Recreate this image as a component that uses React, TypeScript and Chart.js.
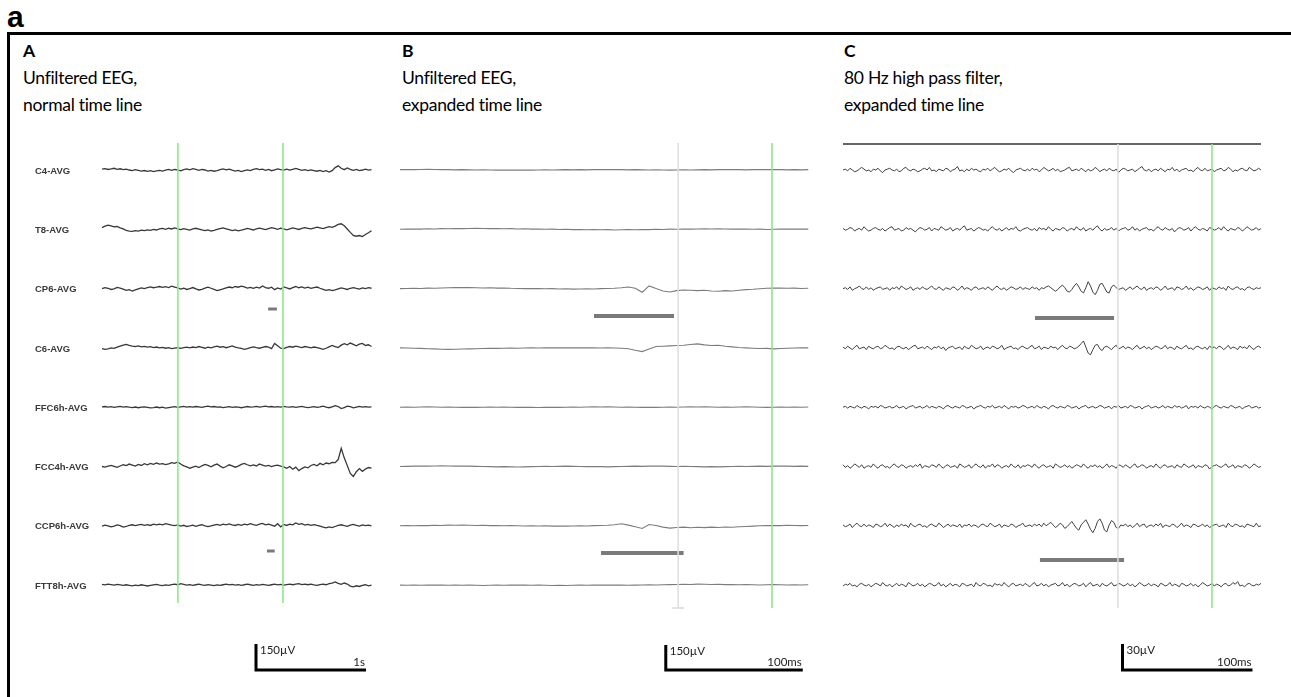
import React, { useEffect, useRef } from "react";
import { Chart, registerables } from "chart.js";
Chart.register(...registerables);

// ---------------- DATA ----------------
const channels = ["C4-AVG", "T8-AVG", "CP6-AVG", "C6-AVG", "FFC6h-AVG", "FCC4h-AVG", "CCP6h-AVG", "FTT8h-AVG"];

// Panel A: unfiltered EEG, normal time line (µV, 2.45 s window)
const aSpanS = 2.45;
const aC4 = [5,8,3,6,10,4,7,2,5,0,-3,2,-2,-6,-3,-8,-4,-9,-5,-2,-6,-1,3,-2,4,0,-5,2,6,1,8,3,-2,4,0,-6,-2,-7,-3,2,6,1,5,-1,-6,-2,-9,-4,1,-3,3,8,2,5,-2,3,-4,1,6,2,0,5,-1,4,9,3,-2,2,-4,1,-3,-7,-2,-9,-4,-12,-4,14,24,10,2,12,4,-2,3,-4,0,5,-1,2];
const aT8 = [10,18,24,20,14,16,8,2,-6,-10,-12,-8,-10,-5,-8,-3,-6,0,-4,2,5,0,6,2,8,3,-2,4,0,-5,2,6,1,-4,-8,-3,-10,-6,-1,4,8,3,-2,-7,-3,-9,-5,0,5,1,-4,2,7,3,-2,4,9,5,0,6,2,-3,3,8,4,-1,5,10,6,2,7,12,8,4,10,15,11,18,28,32,20,2,-18,-35,-40,-36,-42,-30,-20,-8];
const aCP6 = [0,6,2,-5,-1,7,3,-3,-10,-6,-14,-8,-2,4,0,6,10,5,8,12,7,11,6,14,9,4,-3,2,-5,0,6,-2,-8,-4,3,8,2,-5,-12,-7,-2,4,9,5,12,8,14,10,3,7,1,8,3,15,6,2,8,-6,4,-3,10,4,-2,6,12,5,10,3,8,1,6,9,2,-4,-10,-6,-12,-8,-2,4,0,-5,2,6,1,-3,4,0,5,2];
const aC6 = [-4,-8,-5,0,-3,4,10,16,20,14,10,8,12,6,9,4,7,2,5,0,3,-2,1,-4,-1,2,-3,1,4,0,5,2,8,3,-2,4,0,6,10,4,7,1,6,12,5,0,-3,-8,-4,2,6,1,-2,3,8,4,-4,26,12,-2,-4,3,8,4,10,6,2,8,4,0,5,1,-3,-8,-2,6,14,8,2,16,24,18,28,20,12,22,26,14,18,8];
const aFFC6h = [2,4,1,3,-1,2,5,1,3,0,-2,1,-3,0,2,-1,-4,-2,1,-3,0,-5,-2,1,3,-1,2,5,1,3,0,4,2,-1,3,6,2,4,0,2,-2,1,3,-1,2,0,-3,1,4,0,2,5,1,3,6,2,4,0,3,1,5,2,0,3,-1,2,5,1,-2,0,3,-1,2,6,1,-3,2,9,4,-8,-2,6,3,-4,1,5,0,3,1,2];
const aFCC4h = [0,-4,2,6,1,-5,3,10,5,14,8,2,12,6,16,10,18,12,20,14,17,11,15,22,18,26,14,4,-2,-10,-4,2,-6,4,12,6,-2,8,14,2,-8,0,10,4,-4,2,12,18,10,4,9,3,14,8,2,6,0,5,8,2,-2,-10,0,-16,-4,-24,-12,-2,-8,6,12,4,18,10,20,16,24,22,40,105,50,5,-40,-58,-30,-12,-28,-15,-6,-10];
const aCCP6h = [-2,4,0,-6,-2,5,1,-8,-4,2,6,1,5,8,3,7,2,9,5,10,6,12,8,4,1,5,-2,3,-4,-1,4,-3,2,6,0,-5,-1,4,8,3,9,5,11,6,2,8,3,10,6,12,7,3,9,14,6,10,4,-2,12,-6,8,2,10,6,16,8,12,4,8,3,7,2,-2,-8,-12,-6,-10,-4,2,6,1,-3,4,8,2,-2,5,1,4,0];
const aFTT8h = [4,1,6,3,0,4,1,-2,2,-1,-4,0,-3,2,-1,-5,-2,1,4,0,-3,1,-2,3,6,2,8,4,0,3,-1,2,5,1,-2,3,0,-3,1,-2,2,5,1,4,0,3,-1,2,6,2,-1,3,0,4,1,-2,2,5,1,4,0,3,6,2,5,8,3,6,2,5,1,-2,3,6,2,8,12,18,10,4,12,6,-6,-10,-4,-8,-2,2,-4,0];
const aGreenS = [0.69, 1.645];
const aSpikeS = [[1.51, 1.59], [1.5, 1.57]];
const aScaleS = [1.4, 2.4];
const aScaleUv = 150;

// Panel B: unfiltered EEG, expanded time line (µV, 298 ms window)
const bSpanMs = 298;
const bC4 = [2,3,2,3,4,3,2,2,1,2,1,0,1,0,-1,0,-1,-1,0,-1,0,1,0,1,2,1,2,1,2,3,2,3,2,1,2,1,0,1,0,-1,0,1,0,1,2,1,2,3,2,2,1,2,3,2,3,2,1,2,1,2];
const bT8 = [0,1,2,1,3,2,4,3,5,4,5,6,5,4,5,3,4,2,3,1,2,0,1,-1,0,-2,-1,-3,-2,-3,-2,-4,-3,-2,-3,-1,-2,0,-1,1,0,2,1,2,3,2,3,2,1,2,1,0,1,-1,0,1,2,1,2,1];
const bCP6 = [0,1,2,1,3,2,4,5,6,7,6,5,4,5,3,4,2,1,0,1,0,-1,0,-2,-1,-3,-2,-1,-2,0,1,2,5,10,2,-22,16,0,-14,-20,-12,-8,-10,-12,-10,-14,-16,-12,-14,-10,-6,-4,-1,2,4,3,2,3,1,2];
const bC6 = [0,-1,-2,-3,-5,-6,-8,-9,-8,-7,-6,-5,-4,-3,-3,-2,-1,-2,-1,0,-1,0,1,0,1,0,1,0,0,-1,0,-1,-2,-5,-14,-22,-6,8,10,12,14,16,20,24,18,14,16,10,6,2,0,-2,-4,-3,-6,-4,-2,-1,0,0];
const bFFC6h = [0,1,0,1,2,1,0,1,0,-1,0,-1,0,1,0,1,0,-1,0,-1,-2,-1,0,-1,0,1,0,1,2,1,2,1,0,1,0,-1,0,-1,0,1,0,1,2,1,2,1,0,1,0,1,2,1,0,-1,0,1,0,1,0,1];
const bFCC4h = [0,1,2,3,2,3,4,3,2,3,2,1,0,-1,-2,-1,-2,-3,-2,-1,0,1,0,1,2,1,0,-1,0,-1,-2,-1,0,1,2,1,2,3,2,1,0,1,0,-1,-2,-1,-2,-1,0,1,0,1,2,1,2,3,2,1,2,1];
const bCCP6h = [0,1,0,2,1,3,2,4,3,4,3,2,3,1,2,0,1,0,-1,0,-1,0,-2,-1,-2,-1,0,-1,1,2,3,6,12,4,-6,-16,8,2,-8,-14,-10,-8,-12,-9,-11,-8,-10,-7,-9,-6,-4,-2,0,1,2,1,3,2,1,2];
const bFTT8h = [0,-1,0,-1,0,1,0,-1,0,-1,0,-1,-2,-1,0,-1,0,1,0,-1,0,-1,-2,-1,-2,-1,0,-1,0,1,0,1,0,-1,0,1,2,1,2,3,4,5,4,6,5,4,5,3,4,2,3,2,1,2,3,2,1,2,1,2];
const bGrayMs = [203];
const bGreenMs = [271.5];
const bSpikeMs = [[141.6, 200], [146.7, 207]];
const bScaleMs = [194, 294];
const bScaleUv = 150;

// Panel C: 80 Hz high pass filter, expanded time line (µV, 321.5 ms window)
const cSpanMs = 321.5;
const cC4 = [0,1,-1,2,0,-2,-1,1,3,1,-1,0,-2,1,0,2,-1,-3,0,1,2,0,-1,1,-2,-1,2,3,0,-1,1,0,-2,-1,1,2,0,3,-1,0,-2,1,0,-1,2,1,-2,0,1,4,-1,0,-2,1,-1,2,0,1,-1,-2,1,0,2,-1,1,3,0,-2,-1,1,0,2,-1,-3,0,1,2,0,-1,1,-1,2,0,1,-2,0,3,1,-1,0,2,-1,1,-2,-1,0,2,3,-1,0,1,-1,2,0,-2,1,-1,0,3,1,-2,0,1,-1,2,0,-1,1,-3,0,2,1,-1,0,1,-2,0,2,4,0,-1,1,-2,0,1,-1,2,0,-2,1,0,3,-1,1,-2,0,1,2,-1,0,-2,1,3,0,-1,2,-1,0,1,-2,0,1,2,-1,0,3,1,-2,0,-1,1,2,0,-1,3,1,-1,0,2,0];
const cT8 = [1,-1,0,2,1,-2,0,1,-1,3,0,-2,-1,1,2,0,-1,1,-2,0,2,3,-1,0,1,-2,-1,2,0,1,-1,-3,0,2,1,-1,0,2,-2,1,0,-1,3,1,-1,0,2,-2,0,1,-1,2,4,-1,0,1,-2,0,2,1,-1,0,-2,1,3,0,-1,1,-2,0,2,-1,1,0,3,-1,-2,0,1,2,0,-1,1,-2,2,0,1,-1,3,0,-2,1,0,-1,2,1,-2,0,1,-1,3,0,-1,2,-2,0,1,-1,2,4,0,-2,1,-1,0,2,-1,1,-2,0,1,2,-1,0,3,-1,1,-2,0,1,2,-1,0,-2,1,3,0,-1,2,0,-1,1,-3,0,2,1,-1,0,2,-2,1,3,0,-1,1,0,-2,2,1,-1,0,2,-1,3,0,-2,1,0,-1,2,1,-2,0,3,1,-1,0,2,-1,1];
const cCP6 = [0,1,-1,2,-2,0,1,3,0,-1,2,-1,1,-2,0,1,2,-1,0,1,-2,1,0,2,-1,3,1,-1,0,2,-2,0,1,-1,2,0,-1,1,3,0,-1,2,0,-2,1,0,-1,2,1,-2,0,3,-1,1,0,-2,1,2,-1,0,1,-1,2,0,-2,1,3,0,-1,1,-2,0,2,1,-1,0,2,-1,1,0,-1,2,0,1,-2,1,0,2,3,1,-1,-3,-1,2,4,1,-3,-4,-1,3,6,2,-3,-5,1,8,3,-4,-7,-2,5,6,1,-4,-5,2,4,1,-1,0,1,-2,0,2,-1,1,3,0,-1,2,-2,0,1,-1,2,1,-2,0,3,-1,0,1,-2,2,1,-1,0,3,-1,1,-2,0,2,1,-1,0,2,-2,1,0,-1,2,0,1,-2,3,0,-1,1,2,-1,0,-2,1,2,0,-1,1,0,1];
const cC6 = [1,-1,2,0,-2,1,3,-1,0,1,-2,2,0,-1,1,2,-1,0,3,1,-1,0,-2,1,2,0,-1,1,-2,0,2,3,-1,0,1,-1,2,0,-2,1,0,2,-1,1,-3,0,1,2,-1,0,1,-2,2,0,-1,3,1,-1,0,2,-2,0,1,-1,2,1,-1,0,3,-2,0,1,2,-1,0,-2,1,2,0,-1,1,3,-1,0,2,-2,1,0,-1,2,0,1,-2,1,3,0,-1,2,1,-1,0,2,5,8,1,-6,-8,-2,3,4,-1,-3,1,2,0,-2,1,3,-1,0,2,-1,1,0,-2,1,3,-1,0,2,-1,1,-2,0,2,1,-1,0,3,-1,1,0,-2,2,0,-1,1,3,-1,0,-2,1,2,0,-1,1,-2,2,0,1,-1,2,1,-2,0,3,-1,1,0,-2,2,0,1,-1,3,0,-2,1,2,0];
const cFFC6h = [0,1,-1,1,0,-1,2,0,-1,1,0,-2,1,0,1,-1,2,1,-1,0,1,-1,0,2,-1,0,1,-2,0,1,2,-1,0,1,-1,0,2,-1,1,0,-1,1,0,-2,1,2,0,-1,1,0,-1,2,1,-1,0,1,-2,0,1,2,0,-1,1,0,2,-1,0,1,-1,2,0,-2,1,0,1,-1,0,2,1,-1,0,1,-1,2,0,-1,1,0,-2,1,2,0,-1,1,0,-1,2,1,-1,0,1,-2,0,1,2,-1,0,1,-1,0,2,1,-1,0,1,-2,1,0,2,-1,0,1,-1,2,1,-1,0,1,-2,0,1,2,-1,0,1,-1,0,2,-1,1,0,-1,2,0,1,-1,0,2,-2,1,0,1,-1,2,0,-1,1,0,-2,1,2,0,-1,1,0,-1,2,1,-1,0,1,-2,0,1,2,-1,0,1,-1,0];
const cFCC4h = [2,-1,1,-2,0,3,1,-1,2,-2,0,1,-1,3,0,-2,1,2,-1,0,-2,1,3,0,-1,2,1,-2,0,1,-1,2,0,3,-2,1,0,-1,2,1,-1,3,0,-2,1,2,-1,0,1,-2,3,1,-1,0,2,-2,1,3,0,-1,2,-2,1,0,3,-1,2,1,-2,0,1,-1,3,0,-1,2,-2,1,0,2,1,-1,3,0,-2,1,2,-1,0,1,-2,3,1,-1,0,2,-1,1,-2,0,2,1,-1,3,0,-2,1,0,2,-1,1,-2,0,3,-1,1,0,-2,2,1,-1,2,0,-2,1,3,-1,0,2,1,-2,0,1,-1,3,0,-2,1,2,-1,0,1,-2,2,0,-1,3,1,-1,0,2,-2,1,0,-1,2,1,-3,0,1,2,0,-1,1,3,-1,0,2,-2,1,0,-1,2,1,-2,0,3,1,-1,0];
const cCCP6h = [1,-1,0,2,-2,1,3,0,-1,2,-1,1,0,-2,2,1,-1,0,3,-1,2,0,-2,1,-1,2,0,1,-2,3,0,-1,1,2,-1,0,-2,1,2,0,-1,3,1,-2,0,2,-1,1,0,-1,2,-2,1,0,2,-1,1,0,-2,1,2,0,-1,3,1,-1,0,2,-2,1,0,-1,2,1,-2,0,1,3,-1,0,1,-1,2,0,2,-1,3,0,2,4,1,-2,0,3,1,-3,-1,2,5,1,-3,-5,1,4,7,2,-4,-8,-3,5,8,3,-5,-7,1,6,4,-2,-3,1,0,2,-1,1,-2,0,3,-1,1,2,-2,0,1,-1,2,0,3,-2,1,0,-1,2,1,-2,0,3,-1,1,0,-2,2,1,-1,0,2,-1,1,-2,0,1,2,-1,0,1,-2,3,0,-1,2,1,-1,0,-2,2,1,0,-1,3,-1,0];
const cFTT8h = [-1,1,0,2,-1,0,-2,1,2,0,-1,1,-2,0,2,1,-1,3,0,-1,1,-2,0,2,-1,1,0,-2,3,1,-1,0,2,-1,1,-2,0,2,1,-1,0,3,-1,1,-2,0,2,-1,1,0,-2,2,1,-1,0,1,-2,3,0,-1,2,1,-1,0,-2,2,0,1,-1,3,0,-2,1,2,-1,0,1,-1,2,0,-2,1,3,-1,0,2,-1,1,-2,0,1,2,-1,0,3,-1,1,-2,0,2,1,-1,0,2,-2,1,3,-1,0,1,-2,2,0,-1,1,3,-1,0,2,1,-1,0,2,-1,1,-2,0,3,1,-1,0,2,-1,1,0,-2,2,1,-1,0,3,-1,1,0,-2,2,1,-1,0,2,-1,1,-2,0,3,1,-1,0,2,-1,1,0,-2,1,2,-1,0,3,1,4,-1,0,-2,1,2,0,-1,1,0,2];
const cGrayMs = [211.5];
const cGreenMs = [283.8];
const cSpikeMs = [[147.7, 208.5], [151.5, 216.2]];
const cScaleMs = [215, 315];
const cScaleUv = 30;

// ---------------- LAYOUT ----------------
const CANVAS_TOP = 130;
const CANVAS_H = 560;
const ROW0 = 170;
const ROW_STEP = 59.3;
const SCALE_BASE = 670;

type PanelCfg = {
  left: number; width: number; t0px: number; pxPerUnit: number; uvPerPx: number; span: number;
  traces: number[][]; traceColor: string; traceWidth: number;
  greens: number[]; grays: number[]; markerTop: number; markerBottom: number; grayTick: boolean;
  spikes: number[][]; spikeRowsPx: number[]; spikeWidth: number;
  scaleX: number[]; scaleUv: number; uvLabel: string; tLabel: string;
  topLine: boolean; showLabels: boolean;
};

const panels: PanelCfg[] = [
  {
    left: 20, width: 360, t0px: 102, pxPerUnit: 110, uvPerPx: 150 / 26, span: aSpanS,
    traces: [aC4, aT8, aCP6, aC6, aFFC6h, aFCC4h, aCCP6h, aFTT8h], traceColor: "#383838", traceWidth: 1.3,
    greens: aGreenS, grays: [], markerTop: 143, markerBottom: 603, grayTick: false,
    spikes: aSpikeS, spikeRowsPx: [309, 551], spikeWidth: 3,
    scaleX: aScaleS, scaleUv: aScaleUv, uvLabel: "150µV", tLabel: "1s", topLine: false, showLabels: true,
  },
  {
    left: 392, width: 420, t0px: 400, pxPerUnit: 1.37, uvPerPx: 150 / 25, span: bSpanMs,
    traces: [bC4, bT8, bCP6, bC6, bFFC6h, bFCC4h, bCCP6h, bFTT8h], traceColor: "#7c7c7c", traceWidth: 1.1,
    greens: bGreenMs, grays: bGrayMs, markerTop: 143, markerBottom: 608, grayTick: true,
    spikes: bSpikeMs, spikeRowsPx: [316, 553], spikeWidth: 4,
    scaleX: bScaleMs, scaleUv: bScaleUv, uvLabel: "150µV", tLabel: "100ms", topLine: false, showLabels: false,
  },
  {
    left: 835, width: 440, t0px: 843, pxPerUnit: 1.3, uvPerPx: 30 / 26, span: cSpanMs,
    traces: [cC4, cT8, cCP6, cC6, cFFC6h, cFCC4h, cCCP6h, cFTT8h], traceColor: "#404040", traceWidth: 1,
    greens: cGreenMs, grays: cGrayMs, markerTop: 144, markerBottom: 608, grayTick: false,
    spikes: cSpikeMs, spikeRowsPx: [318, 560], spikeWidth: 4,
    scaleX: cScaleMs, scaleUv: cScaleUv, uvLabel: "30µV", tLabel: "100ms", topLine: true, showLabels: false,
  },
];

function buildConfig(p: PanelCfg): any {
  const yVal = (px: number) => (ROW0 - px) * p.uvPerPx;
  const xVal = (px: number) => (px - p.t0px) / p.pxPerUnit;
  const seg = (pts: { x: number; y: number }[], color: string, width: number) => ({
    data: pts, borderColor: color, borderWidth: width, pointRadius: 0, fill: false, tension: 0,
    borderCapStyle: "butt", borderJoinStyle: "miter",
  });
  const ds: any[] = [];
  p.grays.forEach((t) => {
    ds.push(seg([{ x: t, y: yVal(p.markerTop) }, { x: t, y: yVal(p.markerBottom) }], "#dedede", 1.5));
    if (p.grayTick) {
      const d = 6 / p.pxPerUnit;
      ds.push(seg([{ x: t - d, y: yVal(p.markerBottom) }, { x: t + d, y: yVal(p.markerBottom) }], "#cfcfcf", 1.2));
    }
  });
  p.greens.forEach((t) => {
    ds.push(seg([{ x: t, y: yVal(p.markerTop) }, { x: t, y: yVal(p.markerBottom) }], "#8ee88e", 1.6));
  });
  if (p.topLine) {
    ds.push(seg([{ x: 0, y: yVal(144) }, { x: p.span, y: yVal(144) }], "#666666", 2));
  }
  p.traces.forEach((arr, r) => {
    const off = -r * ROW_STEP * p.uvPerPx;
    const dt = p.span / (arr.length - 1);
    ds.push(seg(arr.map((v, i) => ({ x: i * dt, y: v + off })), p.traceColor, p.traceWidth));
  });
  p.spikes.forEach((s, k) => {
    const y = yVal(p.spikeRowsPx[k]);
    ds.push(seg([{ x: s[0], y }, { x: s[1], y }], "#7a7a7a", p.spikeWidth));
  });
  const base = yVal(SCALE_BASE);
  ds.push(seg([
    { x: p.scaleX[0], y: base + p.scaleUv },
    { x: p.scaleX[0], y: base },
    { x: p.scaleX[1], y: base },
  ], "#000000", 3));

  const textPlugin = {
    id: "eegText",
    afterDatasetsDraw(chart: any) {
      const ctx = chart.ctx;
      const xs = chart.scales.x;
      const ys = chart.scales.y;
      ctx.save();
      if (p.showLabels) {
        ctx.font = "bold 9.5px 'Liberation Sans', Arial, sans-serif";
        ctx.fillStyle = "#3a3a3a";
        ctx.textAlign = "left";
        ctx.textBaseline = "middle";
        channels.forEach((name, r) => {
          const off = -r * ROW_STEP * p.uvPerPx;
          ctx.fillText(name, xs.getPixelForValue(xVal(35)), ys.getPixelForValue(off) + 1);
        });
      }
      ctx.font = "11.5px Lato, 'Open Sans', sans-serif";
      ctx.fillStyle = "#222";
      ctx.textBaseline = "alphabetic";
      ctx.textAlign = "left";
      const vx = xs.getPixelForValue(p.scaleX[0]);
      const top = ys.getPixelForValue(base + p.scaleUv);
      ctx.fillText(p.uvLabel, vx + 4, top + 10);
      ctx.textAlign = "right";
      ctx.fillText(p.tLabel, xs.getPixelForValue(p.scaleX[1]) - 1, ys.getPixelForValue(base) - 4);
      ctx.restore();
    },
  };

  return {
    type: "line",
    data: { datasets: ds },
    options: {
      animation: false,
      responsive: false,
      maintainAspectRatio: false,
      events: [],
      layout: { padding: 0 },
      plugins: { legend: { display: false }, tooltip: { enabled: false } },
      scales: {
        x: { type: "linear", display: false, min: xVal(p.left), max: xVal(p.left + p.width) },
        y: { type: "linear", display: false, min: yVal(CANVAS_TOP + CANVAS_H), max: yVal(CANVAS_TOP) },
      },
    },
    plugins: [textPlugin],
  };
}

function Panel({ cfg }: { cfg: PanelCfg }) {
  const ref = useRef<HTMLCanvasElement | null>(null);
  useEffect(() => {
    if (!ref.current) return;
    const chart = new Chart(ref.current, buildConfig(cfg));
    return () => chart.destroy();
  }, [cfg]);
  return (
    <canvas
      ref={ref}
      width={cfg.width}
      height={CANVAS_H}
      style={{ position: "absolute", left: cfg.left, top: CANVAS_TOP, width: cfg.width, height: CANVAS_H }}
    />
  );
}

const headers = [
  { x: 23, lines: ["A", "Unfiltered EEG,", "normal time line"] },
  { x: 402, lines: ["B", "Unfiltered EEG,", "expanded time line"] },
  { x: 844, lines: ["C", "80 Hz high pass filter,", "expanded time line"] },
];

export default function App() {
  return (
    <div style={{ position: "absolute", left: 0, top: 0, width: 1291, height: 697, overflow: "hidden", background: "#fff" }}>
      <div style={{ position: "absolute", left: 7, top: 2, font: "bold 30px 'Liberation Sans', Arial, sans-serif", lineHeight: "30px" }}>a</div>
      <div style={{ position: "absolute", left: 7, top: 32, width: 1320, height: 700, borderLeft: "3px solid #000", borderTop: "3px solid #000" }} />
      {headers.map((h) => (
        <div key={h.x} style={{ position: "absolute", left: h.x, top: 37, fontFamily: "Lato, 'Open Sans', sans-serif", fontSize: 17.5, letterSpacing: "-0.3px", lineHeight: "27px", color: "#000", whiteSpace: "nowrap" }}>
          <div style={{ fontWeight: 700 }}>{h.lines[0]}</div>
          <div>{h.lines[1]}</div>
          <div>{h.lines[2]}</div>
        </div>
      ))}
      {panels.map((p) => (
        <Panel key={p.left} cfg={p} />
      ))}
    </div>
  );
}
